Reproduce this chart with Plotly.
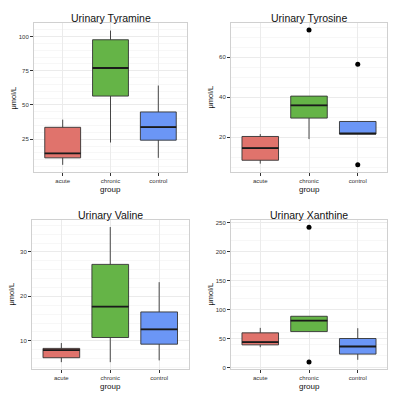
import plotly.graph_objects as go

groups = ["acute", "chronic", "control"]
colors = ["#E0736C", "#65B447", "#6B96F6"]

titles = ["Urinary Tyramine", "Urinary Tyrosine", "Urinary Valine", "Urinary Xanthine"]

# per panel: [acute, chronic, control]
q1 = [[11.4, 56.5, 24.3], [8.4, 29.5, 21.5], [6.2, 10.75, 9.25], [39, 62, 23]]
med = [[14.6, 77.0, 33.9], [14.5, 35.9, 21.7], [7.9, 17.7, 12.6], [43.7, 81, 36.2]]
q3 = [[33.7, 97.6, 44.9], [20.3, 40.5, 27.8], [8.3, 27.2, 16.5], [59.8, 88.5, 50]]
lo = [[6.3, 22.6, 11.4], [6.7, 19.0, 21.5], [5.2, 5.2, 5.6], [35, 62, 13.2]]
hi = [[39.3, 104.3, 64.2], [21.5, 40.5, 27.8], [9.5, 35.6, 23.2], [68.4, 88.5, 67.8]]
# outliers: (group index, value) per panel
outliers = [[], [(1, 73.6), (2, 56.5), (2, 6.2)], [], [(1, 242.5), (1, 9.2)]]

yranges = [[1.2, 109.7], [2.6, 77.0], [3.7, 37.1], [-2.5, 254.5]]
ytickvals = [[25, 50, 75, 100], [20, 40, 60], [10, 20, 30], [0, 50, 100, 150, 200, 250]]

W = 398.0
xdom = [[34 / W, 187 / W], [231 / W, 387 / W], [32 / W, 188.5 / W], [231 / W, 387 / W]]
ydom_top = [1 - 172.7 / W, 1 - 23.3 / W]
ydom_bot = [1 - 370.7 / W, 1 - 221.5 / W]
ydom = [ydom_top, ydom_top, ydom_bot, ydom_bot]

fig = go.Figure()
bw = 0.75
font = "Liberation Sans, Arial, Helvetica, sans-serif"

for p in range(4):
    xa = "x" if p == 0 else f"x{p+1}"
    ya = "y" if p == 0 else f"y{p+1}"
    for g in range(3):
        fig.add_trace(go.Box(
            x=[g], q1=[q1[p][g]], median=[med[p][g]], q3=[q3[p][g]],
            lowerfence=[lo[p][g]], upperfence=[hi[p][g]],
            fillcolor=colors[g], line=dict(color="#333333", width=0.9),
            whiskerwidth=0, width=bw, boxpoints=False,
            xaxis=xa, yaxis=ya, showlegend=False, hoverinfo="skip"))
        fig.add_trace(go.Scatter(
            x=[g - bw / 2, g + bw / 2], y=[med[p][g], med[p][g]],
            mode="lines", line=dict(color="#1a1a1a", width=1.8),
            xaxis=xa, yaxis=ya, showlegend=False, hoverinfo="skip"))
    if outliers[p]:
        fig.add_trace(go.Scatter(
            x=[o[0] for o in outliers[p]], y=[o[1] for o in outliers[p]],
            mode="markers", marker=dict(color="black", size=5),
            xaxis=xa, yaxis=ya, showlegend=False, hoverinfo="skip"))

layout = dict(
    width=398, height=398, margin=dict(l=0, r=0, t=0, b=0),
    paper_bgcolor="white", plot_bgcolor="white",
    font=dict(family=font, color="#222222"),
)
annotations = []
for p in range(4):
    xk = "xaxis" if p == 0 else f"xaxis{p+1}"
    yk = "yaxis" if p == 0 else f"yaxis{p+1}"
    ya = "y" if p == 0 else f"y{p+1}"
    xa = "x" if p == 0 else f"x{p+1}"
    layout[xk] = dict(
        domain=xdom[p], anchor=ya, range=[-0.6, 2.6],
        tickvals=[0, 1, 2], ticktext=groups, ticks="outside", ticklen=3,
        tickcolor="#333333", tickfont=dict(size=6, color="#333333"),
        showgrid=True, gridcolor="#EBEBEB", gridwidth=0.8,
        showline=True, mirror=True, linecolor="#D0D0D0", linewidth=1,
        zeroline=False, fixedrange=True)
    layout[yk] = dict(
        domain=ydom[p], anchor=xa, range=yranges[p],
        tickvals=ytickvals[p], ticks="outside", ticklen=3,
        tickcolor="#333333", tickfont=dict(size=6, color="#333333"),
        showgrid=True, gridcolor="#EBEBEB", gridwidth=0.8,
        minor=dict(showgrid=True, gridcolor="#F7F7F7", gridwidth=0.6),
        showline=True, mirror=True, linecolor="#D0D0D0", linewidth=1,
        zeroline=False, fixedrange=True)
    cx = (xdom[p][0] + xdom[p][1]) / 2
    top = ydom[p][1]
    bot = ydom[p][0]
    annotations.append(dict(text=titles[p], x=cx, y=top + 5.5 / W, xref="paper", yref="paper",
                            xanchor="center", yanchor="middle", showarrow=False,
                            font=dict(size=10.5, color="#111111", family=font)))
    annotations.append(dict(text="group", x=cx, y=bot - 17.5 / W, xref="paper", yref="paper",
                            xanchor="center", yanchor="middle", showarrow=False,
                            font=dict(size=8, color="#111111", family=font)))
    annotations.append(dict(text="μmol/L", x=xdom[p][0] - 20 / W, y=(top + bot) / 2,
                            xref="paper", yref="paper", textangle=-90,
                            xanchor="center", yanchor="middle", showarrow=False,
                            font=dict(size=7.5, color="#111111", family=font)))
layout["annotations"] = annotations
fig.update_layout(**layout)
fig.write_html("out.html", config={"displayModeBar": False},
               post_script="document.body.style.margin='0px';")
